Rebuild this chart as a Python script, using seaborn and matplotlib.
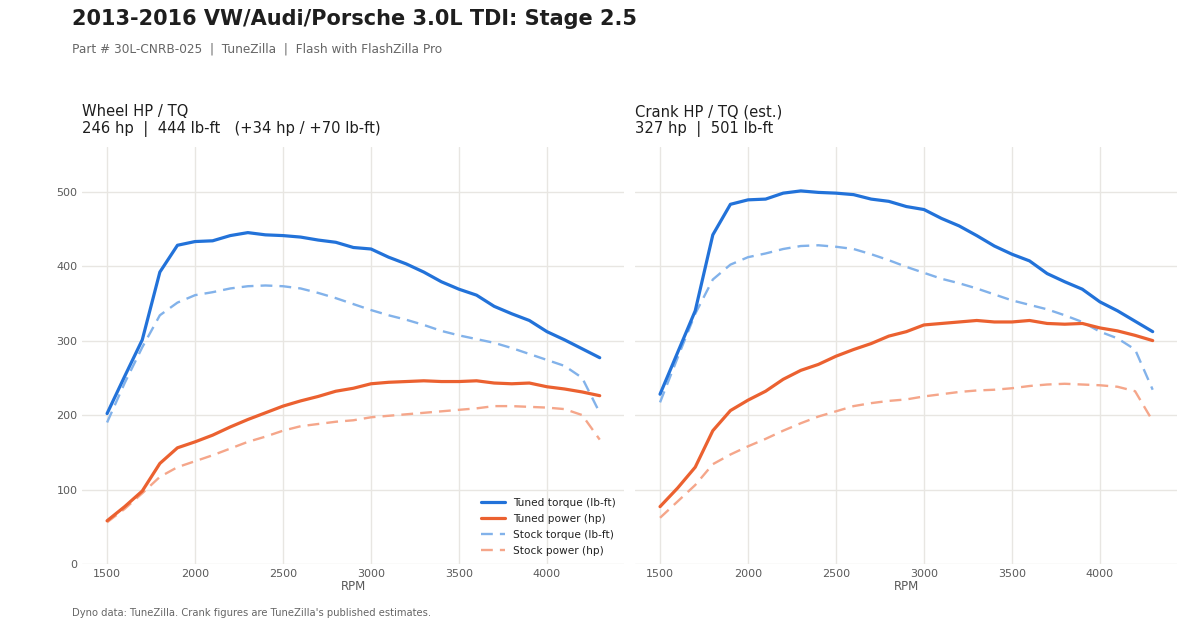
import numpy as np
import pandas as pd
import matplotlib.pyplot as plt
import seaborn as sns

sns.set_theme(style="whitegrid")
plt.rcParams["font.family"] = ["DejaVu Sans"]

# --- data ---
rpm = list(range(1500, 4400, 100))

wheel_tq_tuned = [202, 252, 301, 392, 428, 433, 434, 441, 445, 442, 441, 439, 435, 432, 425,
                  423, 412, 403, 392, 379, 369, 361, 346, 336, 327, 312, 301, 289, 277]
wheel_hp_tuned = [58, 77, 98, 135, 156, 164, 173, 184, 194, 203, 212, 219, 225, 232, 236,
                  242, 244, 245, 246, 245, 245, 246, 243, 242, 243, 238, 235, 231, 226]
wheel_tq_stock = [190, 243, 291, 334, 351, 361, 365, 370, 373, 374, 373, 370, 364, 357, 349,
                  341, 334, 328, 321, 313, 307, 302, 297, 290, 282, 274, 266, 250, 203]
wheel_hp_stock = [56, 74, 95, 117, 130, 138, 146, 155, 164, 171, 179, 185, 188, 191, 193,
                  197, 199, 201, 203, 205, 207, 209, 212, 212, 211, 210, 208, 200, 167]

crank_tq_tuned = [228, 284, 340, 442, 483, 489, 490, 498, 501, 499, 498, 496, 490, 487, 480,
                  476, 464, 454, 441, 427, 416, 407, 390, 379, 369, 352, 340, 326, 312]
crank_hp_tuned = [77, 102, 130, 179, 206, 220, 232, 248, 260, 268, 279, 288, 296, 306, 312,
                  321, 323, 325, 327, 325, 325, 327, 323, 322, 323, 317, 313, 307, 300]
crank_tq_stock = [217, 277, 336, 382, 402, 412, 417, 423, 427, 428, 426, 423, 416, 408, 399,
                  391, 383, 377, 370, 362, 354, 348, 342, 334, 325, 312, 303, 288, 234]
crank_hp_stock = [62, 84, 106, 134, 147, 158, 168, 179, 189, 198, 205, 212, 216, 219, 221,
                  225, 228, 231, 233, 234, 236, 239, 241, 242, 241, 240, 238, 232, 192]

panel_titles = [
    "Wheel HP / TQ\n246 hp  |  444 lb-ft   (+34 hp / +70 lb-ft)",
    "Crank HP / TQ (est.)\n327 hp  |  501 lb-ft",
]
series_labels = ["Tuned torque (lb-ft)", "Tuned power (hp)",
                 "Stock torque (lb-ft)", "Stock power (hp)"]

# colours / styles
C_TQ = "#2272d9"
C_HP = "#eb6130"
C_TQ_STOCK = "#82b2ea"
C_HP_STOCK = "#f5a68a"
GRID = "#e8e6e2"
TXT = "#1e1e1e"
MUTED = "#666666"
TICK = "#5a5a5a"

fig = plt.figure(figsize=(12, 6.3), dpi=100)
ax1 = fig.add_axes([0.0687, 0.1048, 0.4516, 0.6619])
ax2 = fig.add_axes([0.5295, 0.1048, 0.4516, 0.6619], sharey=ax1)

panels = [
    (ax1, wheel_tq_tuned, wheel_hp_tuned, wheel_tq_stock, wheel_hp_stock),
    (ax2, crank_tq_tuned, crank_hp_tuned, crank_tq_stock, crank_hp_stock),
]

for i, (ax, tq, hp, tq_s, hp_s) in enumerate(panels):
    df = pd.DataFrame({"rpm": rpm, "tq": tq, "hp": hp, "tq_s": tq_s, "hp_s": hp_s})
    # stock first so tuned curves sit on top
    sns.lineplot(data=df, x="rpm", y="tq_s", ax=ax, color=C_TQ_STOCK, lw=1.7,
                 label=series_labels[2])
    sns.lineplot(data=df, x="rpm", y="hp_s", ax=ax, color=C_HP_STOCK, lw=1.7,
                 label=series_labels[3])
    sns.lineplot(data=df, x="rpm", y="tq", ax=ax, color=C_TQ, lw=2.3,
                 label=series_labels[0])
    sns.lineplot(data=df, x="rpm", y="hp", ax=ax, color=C_HP, lw=2.3,
                 label=series_labels[1])
    ax.lines[0].set_dashes((5, 3))
    ax.lines[1].set_dashes((5, 3))

    ax.set_xlim(1360, 4440)
    ax.set_ylim(0, 560)
    ax.set_xticks([1500, 2000, 2500, 3000, 3500, 4000])
    ax.set_yticks([0, 100, 200, 300, 400, 500])
    ax.grid(True, color=GRID, lw=1.0)
    for s in ax.spines.values():
        s.set_visible(False)
    ax.tick_params(length=0, labelsize=8, labelcolor=TICK, pad=3.5)
    ax.set_xlabel("RPM", fontsize=8.5, color=TICK, labelpad=1)
    ax.set_ylabel("")
    ax.set_title(panel_titles[i], loc="left", fontsize=10.6, color=TXT, pad=10,
                 linespacing=1.15)

    handles, labels = ax.get_legend_handles_labels()
    if i == 0:
        order = [2, 3, 0, 1]
        leg = ax.legend([handles[k] for k in order], [labels[k] for k in order],
                        loc="lower right", frameon=False, fontsize=7.6,
                        handlelength=2.2, labelspacing=0.55, borderaxespad=0.4)
        for t in leg.get_texts():
            t.set_color("#222222")
    else:
        ax.get_legend().remove()

ax2.tick_params(axis="y", labelleft=False)

fig.text(0.06, 0.986, "2013-2016 VW/Audi/Porsche 3.0L TDI: Stage 2.5",
         fontsize=15, fontweight="bold", color=TXT, va="top")
fig.text(0.06, 0.922, "Part # 30L-CNRB-025  |  TuneZilla  |  Flash with FlashZilla Pro",
         fontsize=8.7, color=MUTED, va="center")
fig.text(0.06, 0.027, "Dyno data: TuneZilla. Crank figures are TuneZilla's published estimates.",
         fontsize=7.2, color=MUTED, va="center")

fig.savefig("out.png", dpi=100)
